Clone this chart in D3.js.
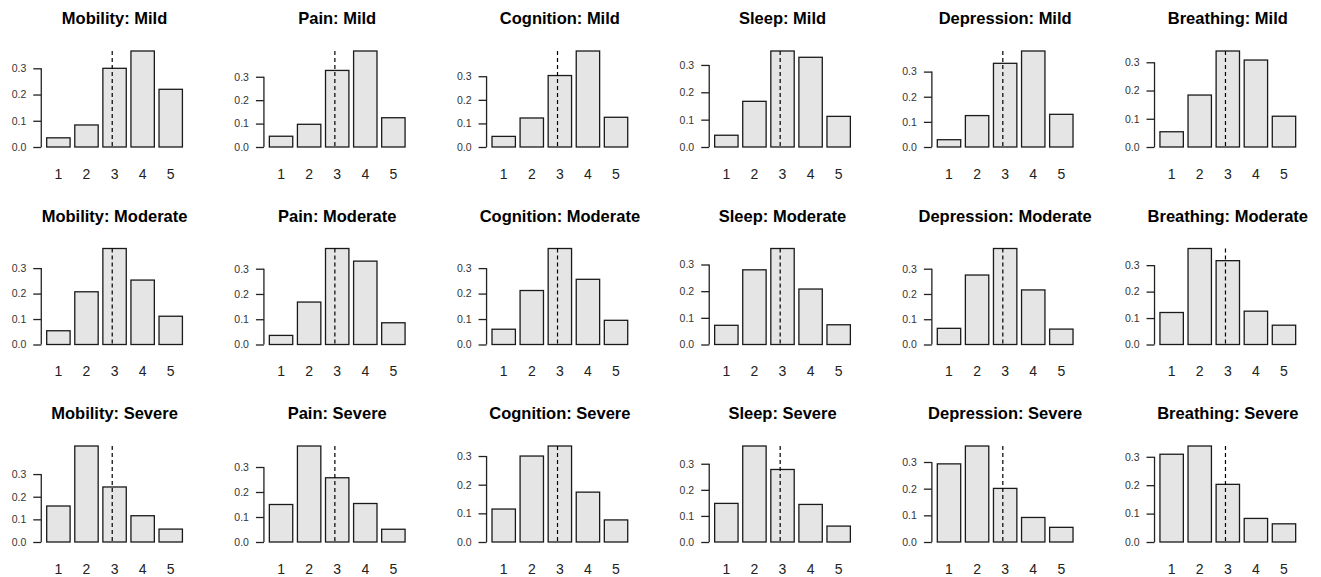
<!DOCTYPE html>
<html>
<head>
<meta charset="utf-8">
<script src="https://cdn.jsdelivr.net/npm/d3@7"></script>
<style>
  html, body { margin: 0; padding: 0; background: #fff; }
  svg { display: block; font-family: "Liberation Sans", Arial, sans-serif; }
</style>
</head>
<body>
<svg id="chart" width="1321" height="577"></svg>
<script>
// Symptom domains (columns) and severity groups (rows)
const domains = ["Mobility", "Pain", "Cognition", "Sleep", "Depression", "Breathing"];
const severities = ["Mild", "Moderate", "Severe"];
const levels = [1, 2, 3, 4, 5];
const yTicks = [0, 0.1, 0.2, 0.3];
const refLevel = 3;

// Proportion of responses at each level, one row per severity (Mild, Moderate, Severe)
const mobility = [
  [0.035, 0.084, 0.300, 0.366, 0.220],
  [0.054, 0.207, 0.377, 0.253, 0.111],
  [0.159, 0.424, 0.243, 0.116, 0.057]
];
const pain = [
  [0.046, 0.097, 0.327, 0.410, 0.125],
  [0.036, 0.168, 0.380, 0.330, 0.086],
  [0.150, 0.384, 0.257, 0.154, 0.051]
];
const cognition = [
  [0.045, 0.123, 0.303, 0.407, 0.126],
  [0.060, 0.212, 0.377, 0.256, 0.095],
  [0.115, 0.300, 0.335, 0.174, 0.077]
];
const sleep = [
  [0.043, 0.167, 0.351, 0.328, 0.112],
  [0.072, 0.280, 0.360, 0.208, 0.074],
  [0.148, 0.368, 0.278, 0.144, 0.061]
];
const depression = [
  [0.029, 0.125, 0.333, 0.382, 0.130],
  [0.064, 0.275, 0.380, 0.216, 0.061],
  [0.293, 0.360, 0.201, 0.092, 0.055]
];
const breathing = [
  [0.054, 0.184, 0.340, 0.308, 0.109],
  [0.121, 0.363, 0.317, 0.126, 0.073],
  [0.309, 0.338, 0.203, 0.083, 0.064]
];
const series = [mobility, pain, cognition, sleep, depression, breathing];

// Panel geometry
const colPitch = 222.65, rowPitch = 197.5;
const firstBarLeft = 46.7, firstBaseline = 147;
const plotH = 96;
const unitPx = 23.4;              // one bar width in pixels
const barWidthUnits = 1, spaceUnits = 0.2;

const svg = d3.select("#chart");

severities.forEach((sev, r) => {
  domains.forEach((dom, c) => {
    const values = series[c][r];
    const left = firstBarLeft + c * colPitch;
    const base = firstBaseline + r * rowPitch;

    // Continuous bar-position axis: bar i spans [0.2 + 1.2 i, 1.2 + 1.2 i]
    const xLo = spaceUnits, xHi = levels.length * (barWidthUnits + spaceUnits);
    const x = d3.scaleLinear().domain([xLo, xHi]).range([left, left + (xHi - xLo) * unitPx]);
    const centre = i => spaceUnits + i * (barWidthUnits + spaceUnits) + barWidthUnits / 2;
    const y = d3.scaleLinear().domain([0, d3.max(values)]).range([base, base - plotH]);

    const g = svg.append("g");

    // Title
    g.append("text")
      .attr("x", x((xLo + xHi) / 2))
      .attr("y", base - 123)
      .attr("text-anchor", "middle")
      .attr("font-size", 16.5)
      .attr("font-weight", "bold")
      .attr("fill", "#000")
      .text(`${dom}: ${sev}`);

    // Bars
    g.selectAll("rect")
      .data(values)
      .join("rect")
      .attr("x", (d, i) => x(centre(i) - barWidthUnits / 2))
      .attr("width", x(barWidthUnits) - x(0))
      .attr("y", d => y(d))
      .attr("height", d => y(0) - y(d))
      .attr("fill", "#e5e5e5")
      .attr("stroke", "#1a1a1a")
      .attr("stroke-width", 1.3);

    // Reference line at level 3
    g.append("line")
      .attr("x1", x(refLevel)).attr("x2", x(refLevel))
      .attr("y1", y(d3.max(values))).attr("y2", y(0) + 2)
      .attr("stroke", "#000")
      .attr("stroke-width", 1.2)
      .attr("stroke-dasharray", "4,3");

    // Category labels under the bars
    g.selectAll("text.lvl")
      .data(levels)
      .join("text")
      .attr("class", "lvl")
      .attr("x", (d, i) => x(centre(i)))
      .attr("y", base + 31.5)
      .attr("text-anchor", "middle")
      .attr("font-size", 14)
      .attr("fill", "#222")
      .text(d => d);

    // Y axis (0 to 0.3)
    const axisX = x(xLo) - 0.04 * (xHi - xLo) * unitPx;
    const yAxis = d3.axisLeft(y)
      .tickValues(yTicks)
      .tickFormat(d3.format(".1f"))
      .tickSize(8)
      .tickPadding(7);
    const ax = g.append("g")
      .attr("transform", `translate(${axisX},0)`)
      .call(yAxis)
      .attr("font-size", 10.5)
      .attr("font-family", "Liberation Sans, Arial, sans-serif");
    ax.select(".domain")
      .attr("d", `M0,${y(yTicks[0])}V${y(yTicks[yTicks.length - 1])}`)
      .attr("stroke", "#222")
      .attr("stroke-width", 1.3);
    ax.selectAll(".tick line").attr("stroke", "#222").attr("stroke-width", 1.3);
    ax.selectAll(".tick text").attr("fill", "#333");
  });
});
</script>
</body>
</html>
